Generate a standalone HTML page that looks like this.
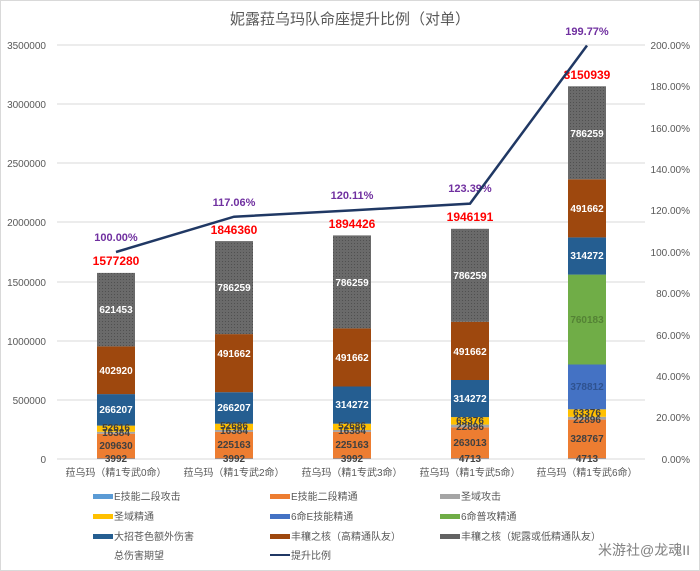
<!DOCTYPE html><html><head><meta charset="utf-8"><style>body{margin:0;background:#fff}svg{display:block;font-family:"Liberation Sans","Noto Sans CJK SC",sans-serif}</style></head><body>
<svg width="700" height="571" viewBox="0 0 700 571">
<defs><pattern id="dot" width="3" height="3" patternUnits="userSpaceOnUse"><rect width="3" height="3" fill="#6a6a6a"/><rect width="1" height="1" fill="#505050"/></pattern></defs>
<rect x="0.5" y="0.5" width="699" height="570" fill="#fff" stroke="#d9d9d9"/>
<text x="350" y="24" font-size="15" fill="#595959" text-anchor="middle">妮露菈乌玛队命座提升比例（对单）</text>
<g stroke="#d9d9d9" stroke-width="1">
<line x1="57" x2="645" y1="45" y2="45"/><line x1="57" x2="645" y1="104" y2="104"/><line x1="57" x2="645" y1="163" y2="163"/><line x1="57" x2="645" y1="222" y2="222"/><line x1="57" x2="645" y1="282" y2="282"/><line x1="57" x2="645" y1="341" y2="341"/><line x1="57" x2="645" y1="400" y2="400"/><line x1="57" x2="645" y1="459" y2="459"/></g>
<g font-size="10" fill="#595959" text-anchor="end">
<text x="46" y="49">3500000</text><text x="46" y="108">3000000</text><text x="46" y="167">2500000</text><text x="46" y="226">2000000</text><text x="46" y="286">1500000</text><text x="46" y="345">1000000</text><text x="46" y="404">500000</text><text x="46" y="463">0</text></g>
<g font-size="10" fill="#595959" text-anchor="end">
<text x="690" y="49">200.00%</text><text x="690" y="90">180.00%</text><text x="690" y="132">160.00%</text><text x="690" y="173">140.00%</text><text x="690" y="214">120.00%</text><text x="690" y="256">100.00%</text><text x="690" y="297">80.00%</text><text x="690" y="339">60.00%</text><text x="690" y="380">40.00%</text><text x="690" y="421">20.00%</text><text x="690" y="463">0.00%</text></g>
<g font-size="10" fill="#595959" text-anchor="middle">
<text x="116" y="476">菈乌玛（精1专武0命）</text><text x="234" y="476">菈乌玛（精1专武2命）</text><text x="352" y="476">菈乌玛（精1专武3命）</text><text x="470" y="476">菈乌玛（精1专武5命）</text><text x="587" y="476">菈乌玛（精1专武6命）</text></g>
<!-- bar1 -->
<g>
<rect x="97" y="458.5" width="38" height="0.5" fill="#5b9bd5"/><rect x="97" y="433.7" width="38" height="24.8" fill="#ed7d31"/><rect x="97" y="431.8" width="38" height="1.9" fill="#a5a5a5"/><rect x="97" y="425.6" width="38" height="6.2" fill="#ffc000"/><rect x="97" y="394.1" width="38" height="31.5" fill="#255e91"/><rect x="97" y="346.4" width="38" height="47.7" fill="#9e480e"/><rect x="97" y="272.9" width="38" height="73.5" fill="url(#dot)"/></g>
<g>
<rect x="215" y="458.5" width="38" height="0.5" fill="#5b9bd5"/><rect x="215" y="431.9" width="38" height="26.6" fill="#ed7d31"/><rect x="215" y="430" width="38" height="1.9" fill="#a5a5a5"/><rect x="215" y="423.7" width="38" height="6.3" fill="#ffc000"/><rect x="215" y="392.2" width="38" height="31.5" fill="#255e91"/><rect x="215" y="334.1" width="38" height="58.1" fill="#9e480e"/><rect x="215" y="241.1" width="38" height="93" fill="url(#dot)"/></g>
<g>
<rect x="333" y="458.5" width="38" height="0.5" fill="#5b9bd5"/><rect x="333" y="431.9" width="38" height="26.6" fill="#ed7d31"/><rect x="333" y="430" width="38" height="1.9" fill="#a5a5a5"/><rect x="333" y="423.7" width="38" height="6.3" fill="#ffc000"/><rect x="333" y="386.5" width="38" height="37.2" fill="#255e91"/><rect x="333" y="328.4" width="38" height="58.1" fill="#9e480e"/><rect x="333" y="235.4" width="38" height="93" fill="url(#dot)"/></g>
<g>
<rect x="451" y="458.4" width="38" height="0.6" fill="#5b9bd5"/><rect x="451" y="427.3" width="38" height="31.1" fill="#ed7d31"/><rect x="451" y="424.6" width="38" height="2.7" fill="#a5a5a5"/><rect x="451" y="417.1" width="38" height="7.5" fill="#ffc000"/><rect x="451" y="380" width="38" height="37.1" fill="#255e91"/><rect x="451" y="321.8" width="38" height="58.2" fill="#9e480e"/><rect x="451" y="228.8" width="38" height="93" fill="url(#dot)"/></g>
<g>
<rect x="568" y="458.4" width="38" height="0.6" fill="#5b9bd5"/><rect x="568" y="419.6" width="38" height="38.8" fill="#ed7d31"/><rect x="568" y="416.8" width="38" height="2.8" fill="#a5a5a5"/><rect x="568" y="409.3" width="38" height="7.5" fill="#ffc000"/><rect x="568" y="364.5" width="38" height="44.8" fill="#4472c4"/><rect x="568" y="274.6" width="38" height="89.9" fill="#70ad47"/><rect x="568" y="237.4" width="38" height="37.2" fill="#255e91"/><rect x="568" y="179.3" width="38" height="58.1" fill="#9e480e"/><rect x="568" y="86.3" width="38" height="93" fill="url(#dot)"/></g>
<g font-size="10" font-weight="bold" text-anchor="middle">
<g fill="#404040"><text x="116" y="462">3992</text><text x="234" y="462">3992</text><text x="352" y="462">3992</text><text x="470" y="462">4713</text><text x="587" y="462">4713</text>
<text x="116" y="449">209630</text><text x="234" y="448">225163</text><text x="352" y="448">225163</text><text x="470" y="446">263013</text><text x="587" y="442">328767</text>
<text x="116" y="436">16384</text><text x="234" y="434">16384</text><text x="352" y="434">16384</text><text x="470" y="430">22896</text><text x="587" y="423">22896</text>
<text x="116" y="431">52616</text><text x="234" y="429">52686</text><text x="352" y="429">52686</text><text x="470" y="424">63376</text><text x="587" y="416">63376</text>
<text x="587" y="390" fill="#2f528f">378812</text><text x="587" y="323" fill="#548235">760183</text></g>
<g fill="#fff"><text x="116" y="413">266207</text><text x="234" y="411">266207</text><text x="352" y="408">314272</text><text x="470" y="402">314272</text><text x="587" y="259">314272</text>
<text x="116" y="374">402920</text><text x="234" y="357">491662</text><text x="352" y="361">491662</text><text x="470" y="355">491662</text><text x="587" y="212">491662</text>
<text x="116" y="313">621453</text><text x="234" y="291">786259</text><text x="352" y="286">786259</text><text x="470" y="279">786259</text><text x="587" y="137">786259</text></g>
<g fill="#ff0000" font-size="12"><text x="116" y="265">1577280</text><text x="234" y="234">1846360</text><text x="352" y="228">1894426</text><text x="470" y="221">1946191</text><text x="587" y="79">3150939</text></g>
<g fill="#7030a0" font-size="11"><text x="116" y="241">100.00%</text><text x="234" y="206">117.06%</text><text x="352" y="199">120.11%</text><text x="470" y="192">123.39%</text><text x="587" y="35">199.77%</text></g></g>
<polyline points="116,252 234,216.7 352,210.4 470,203.6 587,45.5" fill="none" stroke="#203864" stroke-width="2.5"/>
<g font-size="10" fill="#595959">
<rect x="93" y="494" width="20" height="5" fill="#5b9bd5"/><text x="114" y="500">E技能二段攻击</text>
<rect x="270" y="494" width="20" height="5" fill="#ed7d31"/><text x="291" y="500">E技能二段精通</text>
<rect x="440" y="494" width="20" height="5" fill="#a5a5a5"/><text x="461" y="500">圣域攻击</text>
<rect x="93" y="514" width="20" height="5" fill="#ffc000"/><text x="114" y="520">圣域精通</text>
<rect x="270" y="514" width="20" height="5" fill="#4472c4"/><text x="291" y="520">6命E技能精通</text>
<rect x="440" y="514" width="20" height="5" fill="#70ad47"/><text x="461" y="520">6命普攻精通</text>
<rect x="93" y="534" width="20" height="5" fill="#255e91"/><text x="114" y="540">大招苍色额外伤害</text>
<rect x="270" y="534" width="20" height="5" fill="#9e480e"/><text x="291" y="540">丰穰之核（高精通队友）</text>
<rect x="440" y="534" width="20" height="5" fill="#636363"/><text x="461" y="540">丰穰之核（妮露或低精通队友）</text>
<text x="114" y="559">总伤害期望</text>
<rect x="270" y="554" width="20" height="2" fill="#203864"/><text x="291" y="559">提升比例</text></g>
<text x="690" y="555" font-size="14" fill="#7f7f7f" text-anchor="end">米游社@龙魂II</text>
</svg></body></html>
